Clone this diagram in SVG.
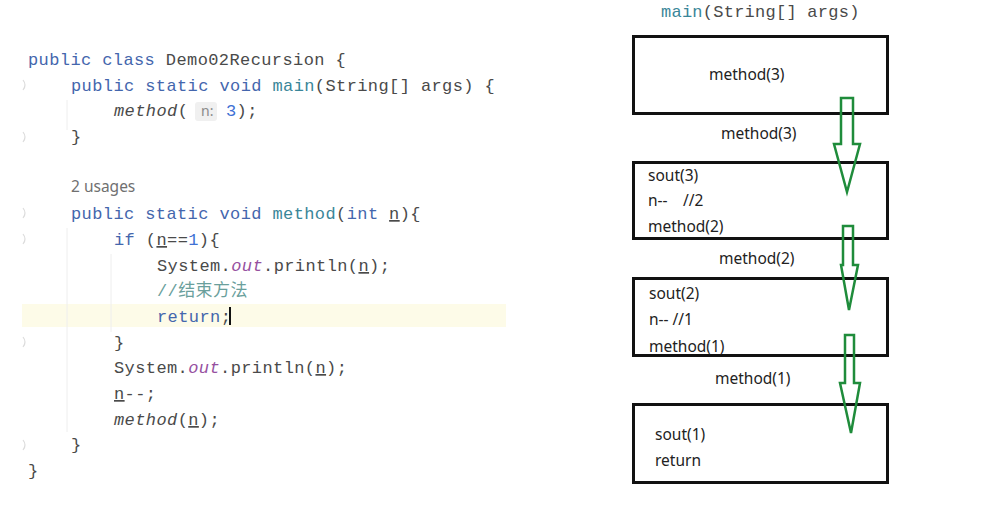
<svg xmlns="http://www.w3.org/2000/svg" width="989" height="529" viewBox="0 0 989 529">
<style>
.code{font-family:"Liberation Mono","DejaVu Sans Mono",monospace;font-size:17px;letter-spacing:0.4px;fill:#4a4a4a;white-space:pre}
.kw{fill:#4466ad}
.fn{fill:#3a8699}
.num{fill:#4070d4}
.out{fill:#96509f;font-style:italic}
.it{font-style:italic}
.cm{fill:#6a9f9c;font-family:"Liberation Mono","Noto Sans CJK SC",monospace}
.ul{text-decoration:underline}
.lbl{font-family:"Noto Sans","Liberation Sans",sans-serif;font-size:15.5px;fill:#222}
.box{fill:none;stroke:#111;stroke-width:3}
.arr{fill:none;stroke:#1f8c3b;stroke-width:2.5;stroke-linejoin:miter}
.guide{stroke:#eeeeee;stroke-width:1}
.fold{fill:none;stroke:#dcdcdc;stroke-width:1.2}
</style>
<rect width="989" height="529" fill="#ffffff"/>

<g id="code">
<rect x="22" y="304" width="484" height="23" fill="#fdfbe8"/>
<line class="guide" x1="67" y1="100" x2="67" y2="130"/>
<line class="guide" x1="67" y1="228" x2="67" y2="432"/>
<line class="guide" x1="111" y1="254" x2="111" y2="332"/>
<path class="fold" d="M23 80 q4 5 0 10"/>
<path class="fold" d="M23 132 q4 5 0 10"/>
<path class="fold" d="M23 208 q4 5 0 10"/>
<path class="fold" d="M23 234 q4 5 0 10"/>
<path class="fold" d="M23 337 q4 5 0 10"/>
<path class="fold" d="M23 440 q4 5 0 10"/>
<text class="code" x="28" y="65"><tspan class="kw">public class </tspan>Demo02Recursion {</text>
<text class="code" x="71" y="91"><tspan class="kw">public static void </tspan><tspan class="fn">main</tspan>(String[] args) {</text>
<text class="code" x="114" y="116"><tspan class="it">method</tspan>(</text>
<rect x="195" y="102" width="22" height="19" rx="3" fill="#f0f0f0"/>
<text x="201" y="116" font-family="Noto Sans,Liberation Sans,sans-serif" font-size="14" fill="#8a8a8a">n:</text>
<text class="code" x="226" y="116"><tspan class="num">3</tspan>);</text>
<text class="code" x="71" y="142">}</text>
<text x="71" y="192" font-family="Noto Sans,Liberation Sans,sans-serif" font-size="15.5" fill="#707070">2 usages</text>
<text class="code" x="71" y="219"><tspan class="kw">public static void </tspan><tspan class="fn">method</tspan>(<tspan class="kw">int </tspan><tspan class="ul">n</tspan>){</text>
<text class="code" x="114" y="245"><tspan class="kw">if </tspan>(<tspan class="ul">n</tspan>==<tspan class="num">1</tspan>){</text>
<text class="code" x="157" y="271">System.<tspan class="out">out</tspan>.println(<tspan class="ul">n</tspan>);</text>
<text class="code cm" x="157" y="296">//结束方法</text>
<text class="code" x="157" y="322"><tspan class="kw">return</tspan>;</text>
<rect x="229" y="307" width="2" height="18" fill="#111"/>
<text class="code" x="114" y="348">}</text>
<text class="code" x="114" y="373">System.<tspan class="out">out</tspan>.println(<tspan class="ul">n</tspan>);</text>
<text class="code" x="114" y="399"><tspan class="ul">n</tspan>--;</text>
<text class="code" x="114" y="425"><tspan class="it">method</tspan>(<tspan class="ul">n</tspan>);</text>
<text class="code" x="71" y="450">}</text>
<text class="code" x="28" y="476">}</text>
</g>

<g id="title">
<text class="code" x="661" y="17" style="letter-spacing:0.25px"><tspan class="fn">main</tspan>(String[] args)</text>
</g>

<g id="frame-main">
<rect class="box" x="633.5" y="36.5" width="254" height="77"/>
<text class="lbl" x="709" y="80">method(3)</text>
</g>

<g id="frame-3">
<rect class="box" x="633.5" y="162.5" width="254" height="76"/>
<text class="lbl" x="648" y="181">sout(3)</text>
<text class="lbl" x="648" y="206">n--</text>
<text class="lbl" x="683" y="206">//2</text>
<text class="lbl" x="648" y="232">method(2)</text>
</g>

<g id="frame-2">
<rect class="box" x="633.5" y="278.5" width="254" height="77"/>
<text class="lbl" x="649" y="299">sout(2)</text>
<text class="lbl" x="649" y="325">n-- //1</text>
<text class="lbl" x="649" y="352">method(1)</text>
</g>

<g id="frame-1">
<rect class="box" x="633.5" y="404.5" width="254" height="78"/>
<text class="lbl" x="655" y="440">sout(1)</text>
<text class="lbl" x="655" y="466">return</text>
</g>

<g id="connectors">
<polygon class="arr" points="841,98 853,98 853,144 860,144 847,192 834,144 841,144"/>
<polygon class="arr" points="843,226 853,226 853,265 858,265 849,310 841,265 843,265"/>
<polygon class="arr" points="845,335 854,335 854,383 860,383 851,433 840,383 845,383"/>
<text class="lbl" x="721" y="139">method(3)</text>
<text class="lbl" x="719" y="264">method(2)</text>
<text class="lbl" x="715" y="384">method(1)</text>
</g>
</svg>
